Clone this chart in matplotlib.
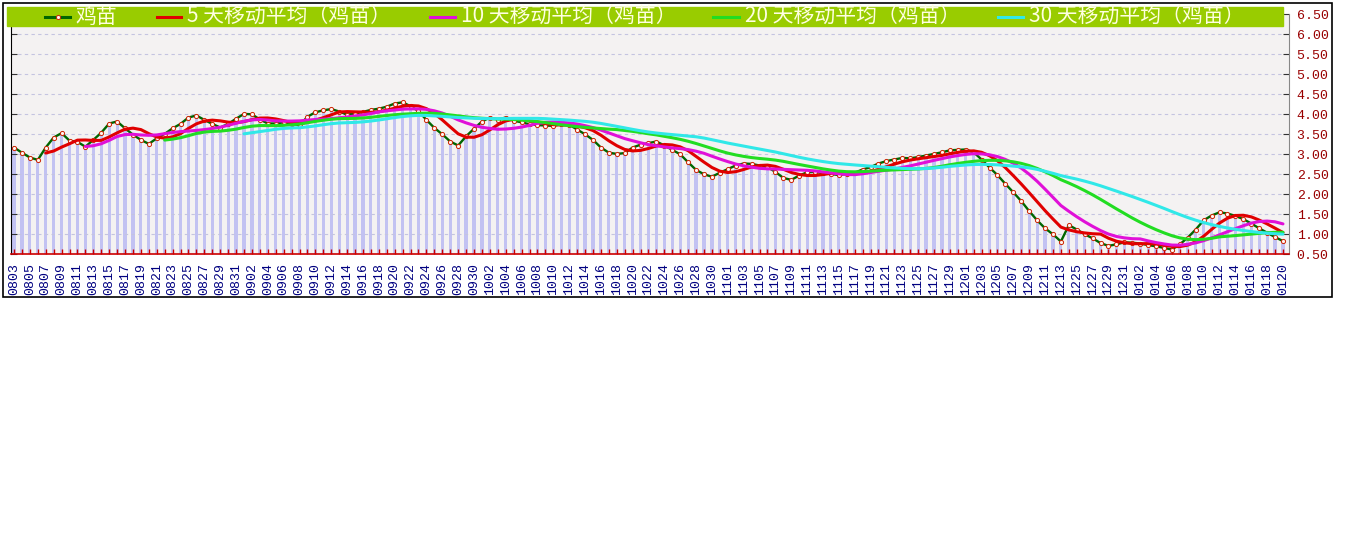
import matplotlib
matplotlib.use('Agg')
import matplotlib.pyplot as plt
import numpy as np
import pandas as pd
from matplotlib.lines import Line2D
from matplotlib.patches import Rectangle


def days(m, a, b):
    return [f"{m:02d}{d:02d}" for d in range(a, b + 1)]


# category labels (daily dates, one gap in December)
dates = (days(8, 3, 31) + days(9, 1, 30) + days(10, 1, 31) + days(11, 1, 30)
         + days(12, 1, 13) + ["1224"] + days(12, 25, 31) + days(1, 1, 20))

# 鸡苗 daily price
price = [
    3.17, 3.04, 2.92, 2.86, 3.17, 3.42, 3.53, 3.34, 3.31, 3.19,
    3.36, 3.54, 3.77, 3.82, 3.65, 3.49, 3.36, 3.26, 3.40, 3.51,
    3.65, 3.76, 3.92, 3.97, 3.86, 3.76, 3.67, 3.76, 3.89, 4.01,
    4.00, 3.87, 3.77, 3.77, 3.80, 3.77, 3.72, 3.94, 4.05, 4.10,
    4.13, 4.07, 3.99, 4.02, 4.06, 4.11, 4.14, 4.19, 4.27, 4.30,
    4.20, 4.08, 3.86, 3.66, 3.50, 3.32, 3.22, 3.45, 3.64, 3.82,
    3.92, 3.87, 3.92, 3.84, 3.80, 3.75, 3.73, 3.72, 3.71, 3.75,
    3.74, 3.62, 3.50, 3.36, 3.17, 3.04, 3.01, 3.03, 3.17, 3.24,
    3.28, 3.32, 3.22, 3.11, 3.00, 2.80, 2.61, 2.50, 2.44, 2.54,
    2.63, 2.72, 2.77, 2.76, 2.72, 2.68, 2.56, 2.41, 2.36, 2.47,
    2.55, 2.56, 2.53, 2.51, 2.48, 2.51, 2.54, 2.62, 2.68, 2.77,
    2.83, 2.87, 2.91, 2.90, 2.93, 2.97, 3.01, 3.05, 3.10, 3.11,
    3.12, 3.05, 2.87, 2.67, 2.48, 2.26, 2.05, 1.83, 1.58, 1.35,
    1.15, 1.00, 0.82, 1.23, 1.12, 1.00, 0.90, 0.78, 0.71, 0.75,
    0.80, 0.79, 0.77, 0.73, 0.70, 0.66, 0.62, 0.75, 0.92, 1.12,
    1.35, 1.47, 1.55, 1.52, 1.46, 1.38, 1.27, 1.15, 1.04, 0.93,
    0.83,
]

ma_windows = [5, 10, 20, 30]
series_names = ["鸡苗", "5 天移动平均（鸡苗）", "10 天移动平均（鸡苗）",
                "20 天移动平均（鸡苗）", "30 天移动平均（鸡苗）"]
ma_colors = ['#E00000', '#E010D8', '#22DD22', '#30E8E8']
price_color = '#006600'

W, H = 1345, 541
fig = plt.figure(figsize=(W / 100, H / 100), dpi=100)
fig.patch.set_facecolor('white')


def fx(px):
    return px / W


def fy(py):
    return 1 - py / H


# outer frame
fig.add_artist(Rectangle((fx(3), fy(297)), fx(1332) - fx(3), fy(3) - fy(297),
                         fill=False, edgecolor='black', lw=1.2, zorder=10))

ax = fig.add_axes([fx(11), fy(254.3), fx(1289) - fx(11), fy(14.3) - fy(254.3)])
ax.set_facecolor('#F4F2F2')

x = np.arange(len(price))
s = pd.Series(price)
base = 0.5
ax.bar(x, s.values - base, bottom=base, width=0.4, color='#C2C2F2', zorder=1)

ax.plot(x, s.values, color=price_color, lw=1.7, marker='o', ms=3.0,
        mfc='#FFF4F0', mec='#CC2200', mew=0.7, zorder=3)
for k, (w, c) in enumerate(zip(ma_windows, ma_colors)):
    ma = s.rolling(w).mean()
    ax.plot(x, ma.values, color=c, lw=2.2, zorder=4 + k, solid_capstyle='round')

ax.set_xlim(-0.38, len(price) - 1 + 0.76)
ax.set_ylim(0.5, 6.5)

yt = np.arange(0.5, 6.51, 0.5)
ax.set_yticks(yt)
ax.set_yticklabels([f"{v:.2f}" for v in yt], fontfamily='Liberation Mono',
                   fontsize=9.5, color='#990000')
ax.yaxis.grid(True, linestyle=(0, (3, 3)), color='#C4C4E0', lw=0.8)
ax.set_axisbelow('line')
ax.tick_params(axis='y', left=True, right=True, labelleft=False, labelright=True,
               direction='in', length=4, color='#333333', pad=5.5)

ax.set_xticks(x)
ax.set_xticklabels([d if i % 2 == 0 else '' for i, d in enumerate(dates)],
                   fontfamily='Liberation Mono', fontsize=9.5, color='#000080',
                   rotation=90)
ax.tick_params(axis='x', direction='in', length=3.6, color='#CC0000', width=1, pad=6)

ax.spines['top'].set_visible(False)
ax.spines['left'].set_color('black')
ax.spines['right'].set_color('#888888')
ax.spines['bottom'].set_color('#CC0000')
ax.spines['bottom'].set_linewidth(1.2)

# legend band
fig.add_artist(Rectangle((fx(7), fy(26)), fx(1283) - fx(7), fy(7) - fy(26),
                         color='#99CC00', zorder=5))
legend_pos = [(45, 70, 75), (157, 181, 187), (430, 455, 461),
              (713, 739, 745), (998, 1023, 1029)]
colors_all = [price_color] + ma_colors
ly = 16.5
for (a, b, t), name, c in zip(legend_pos, series_names, colors_all):
    fig.add_artist(Line2D([fx(a), fx(b)], [fy(ly), fy(ly)], transform=fig.transFigure,
                          color=c, lw=2.2, zorder=6))
    if c == price_color:
        fig.add_artist(Line2D([fx((a + b) / 2)], [fy(ly)], transform=fig.transFigure,
                              marker='o', ms=3.0, mfc='#FFF4F0', mec='#CC2200',
                              mew=0.7, zorder=7))
    fig.text(fx(t), fy(ly + 0.5), name, color='#FFFFE0', fontsize=15,
             family=['Noto Sans CJK SC', 'DejaVu Sans'], va='center', ha='left',
             zorder=8)

fig.savefig('out.png', dpi=100, facecolor='white')
